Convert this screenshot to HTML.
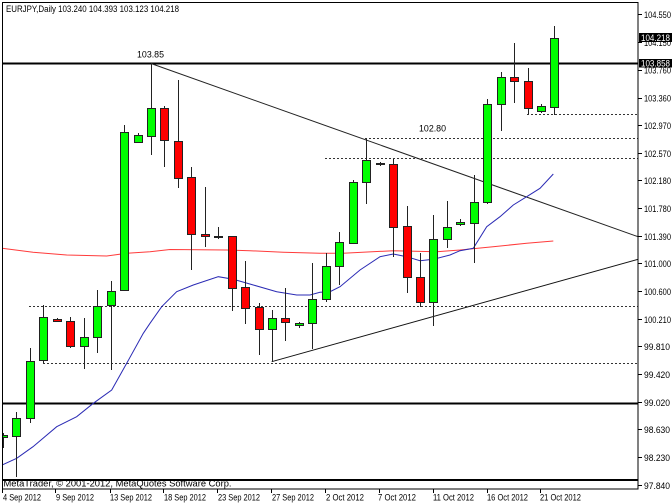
<!DOCTYPE html>
<html><head><meta charset="utf-8">
<style>
html,body{margin:0;padding:0;background:#fff;}
svg{display:block;}
text{font-family:"Liberation Sans",sans-serif;fill:#000;}
</style></head>
<body>
<svg width="672" height="504" viewBox="0 0 672 504" xmlns="http://www.w3.org/2000/svg">
<defs><clipPath id="pa"><rect x="2" y="2" width="636" height="487"/></clipPath></defs>
<rect x="0" y="0" width="672" height="504" fill="#fff"/>

<g clip-path="url(#pa)">
<!-- horizontal solid lines -->
<line x1="2" y1="63.5" x2="638" y2="63.5" stroke="#000" stroke-width="2"/>
<line x1="2" y1="403.5" x2="638" y2="403.5" stroke="#000" stroke-width="2"/>
<line x1="2" y1="480" x2="638" y2="480" stroke="#000" stroke-width="2"/>
<!-- dotted levels -->
<g stroke="#333" stroke-width="1" stroke-dasharray="2 2" fill="none">
<line x1="29" y1="306.5" x2="638" y2="306.5"/>
<line x1="43" y1="363.5" x2="638" y2="363.5"/>
<line x1="325" y1="158.5" x2="638" y2="158.5"/>
<line x1="365" y1="138.5" x2="638" y2="138.5"/>
<line x1="527" y1="114.5" x2="638" y2="114.5"/>
</g>
<!-- trend lines -->
<line x1="151" y1="63.5" x2="638" y2="236.7" stroke="#222" stroke-width="1"/>
<line x1="271.7" y1="361.7" x2="638" y2="259.3" stroke="#111" stroke-width="1"/>
<!-- moving averages -->
<polyline fill="none" stroke="#ff3b3b" stroke-width="1" points="2,248.3 33,252.3 66.7,255 106.7,256 126.7,253.3 150,251.7 170,249.5 226.7,250 250,250.7 283.3,252.3 320,253.3 343,253.3 393.3,250.7 436.7,251.7 460,250 493,246.7 526.7,243.3 553.3,241"/>
<polyline fill="none" stroke="#2a2ab4" stroke-width="1" points="2,465 16.7,458.3 33,446.7 56.7,426.7 76.7,416.7 93.3,403.3 111.7,390 126.7,363.3 143.3,333.3 150,323.3 161.7,306.7 176.7,291.7 193.3,285 218.3,276.7 233.3,279.3 253.3,285 276.7,291.7 296.7,295 310,295 320,292.3 330,291.7 340,286.7 360,270 380,256.7 393.3,254 406.7,256.7 420,260.7 433.3,259.3 450,255 460,250.7 473.3,248.3 486.7,226.7 500,216.7 513.3,205 526.7,196.7 540,188.3 553.3,174"/>

<!-- candles -->
<g stroke="#222" stroke-width="1">
<line x1="3.5" y1="433" x2="3.5" y2="448"/><rect x="-0.5" y="435.5" width="8" height="2" fill="#00ff00"/>
<line x1="16.5" y1="412" x2="16.5" y2="477"/><rect x="12.5" y="418.5" width="8" height="18" fill="#00ff00"/>
<line x1="30.5" y1="348" x2="30.5" y2="423"/><rect x="26.5" y="361.5" width="8" height="57" fill="#00ff00"/>
<line x1="43.5" y1="305" x2="43.5" y2="363"/><rect x="39.5" y="317.5" width="8" height="43" fill="#00ff00"/>
<line x1="57.5" y1="318" x2="57.5" y2="322"/><rect x="53.5" y="319.5" width="8" height="2" fill="#ff0000"/>
<line x1="70.5" y1="317" x2="70.5" y2="348"/><rect x="66.5" y="321.5" width="8" height="25" fill="#ff0000"/>
<line x1="84.5" y1="318" x2="84.5" y2="369"/><rect x="80.5" y="337.5" width="8" height="9" fill="#00ff00"/>
<line x1="97.5" y1="290" x2="97.5" y2="353"/><rect x="93.5" y="306.5" width="8" height="31" fill="#00ff00"/>
<line x1="111.5" y1="281" x2="111.5" y2="370"/><rect x="107.5" y="291.5" width="8" height="14" fill="#00ff00"/>
<line x1="124.5" y1="125" x2="124.5" y2="290"/><rect x="120.5" y="132.5" width="8" height="158" fill="#00ff00"/>
<line x1="138.5" y1="133" x2="138.5" y2="142"/><rect x="134.5" y="135.5" width="8" height="7" fill="#00ff00"/>
<line x1="151.5" y1="63" x2="151.5" y2="155"/><rect x="147.5" y="108.5" width="8" height="28" fill="#00ff00"/>
<line x1="164.5" y1="106" x2="164.5" y2="167"/><rect x="160.5" y="108.5" width="8" height="32" fill="#ff0000"/>
<line x1="178.5" y1="80" x2="178.5" y2="188"/><rect x="174.5" y="141.5" width="8" height="37" fill="#ff0000"/>
<line x1="191.5" y1="167" x2="191.5" y2="270"/><rect x="187.5" y="177.5" width="8" height="57" fill="#ff0000"/>
<line x1="205.5" y1="187" x2="205.5" y2="247"/><rect x="201.5" y="234.5" width="8" height="2" fill="#ff0000"/>
<line x1="218.5" y1="227" x2="218.5" y2="239"/><rect x="214.5" y="236.5" width="8" height="1" fill="#00ff00"/>
<line x1="232.5" y1="236" x2="232.5" y2="311"/><rect x="228.5" y="236.5" width="8" height="52" fill="#ff0000"/>
<line x1="245.5" y1="261" x2="245.5" y2="324"/><rect x="241.5" y="287.5" width="8" height="21" fill="#ff0000"/>
<line x1="259.5" y1="303" x2="259.5" y2="355"/><rect x="255.5" y="307.5" width="8" height="22" fill="#ff0000"/>
<line x1="272.5" y1="310" x2="272.5" y2="362"/><rect x="268.5" y="318.5" width="8" height="11" fill="#00ff00"/>
<line x1="285.5" y1="288" x2="285.5" y2="341"/><rect x="281.5" y="318.5" width="8" height="4" fill="#ff0000"/>
<line x1="299.5" y1="322" x2="299.5" y2="328"/><rect x="295.5" y="323.5" width="8" height="2" fill="#00ff00"/>
<line x1="312.5" y1="263" x2="312.5" y2="349"/><rect x="308.5" y="299.5" width="8" height="24" fill="#00ff00"/>
<line x1="326.5" y1="253" x2="326.5" y2="302"/><rect x="322.5" y="266.5" width="8" height="33" fill="#00ff00"/>
<line x1="339.5" y1="232" x2="339.5" y2="285"/><rect x="335.5" y="242.5" width="8" height="24" fill="#00ff00"/>
<line x1="353.5" y1="180" x2="353.5" y2="244"/><rect x="349.5" y="182.5" width="8" height="61" fill="#00ff00"/>
<line x1="366.5" y1="139" x2="366.5" y2="204"/><rect x="362.5" y="160.5" width="8" height="22" fill="#00ff00"/>
<line x1="380.5" y1="162" x2="380.5" y2="166"/><rect x="376.5" y="163.5" width="8" height="1" fill="#00ff00"/>
<line x1="393.5" y1="159" x2="393.5" y2="257"/><rect x="389.5" y="164.5" width="8" height="63" fill="#ff0000"/>
<line x1="407.5" y1="206" x2="407.5" y2="293"/><rect x="403.5" y="226.5" width="8" height="51" fill="#ff0000"/>
<line x1="420.5" y1="253" x2="420.5" y2="307"/><rect x="416.5" y="277.5" width="8" height="25" fill="#ff0000"/>
<line x1="433.5" y1="215" x2="433.5" y2="326"/><rect x="429.5" y="239.5" width="8" height="63" fill="#00ff00"/>
<line x1="447.5" y1="201" x2="447.5" y2="248"/><rect x="443.5" y="227.5" width="8" height="12" fill="#00ff00"/>
<line x1="460.5" y1="219" x2="460.5" y2="226"/><rect x="456.5" y="222.5" width="8" height="2" fill="#00ff00"/>
<line x1="474.5" y1="175" x2="474.5" y2="263"/><rect x="470.5" y="202.5" width="8" height="21" fill="#00ff00"/>
<line x1="487.5" y1="99" x2="487.5" y2="204"/><rect x="483.5" y="104.5" width="8" height="98" fill="#00ff00"/>
<line x1="501.5" y1="72" x2="501.5" y2="131"/><rect x="497.5" y="77.5" width="8" height="27" fill="#00ff00"/>
<line x1="514.5" y1="43" x2="514.5" y2="103"/><rect x="510.5" y="77.5" width="8" height="4" fill="#ff0000"/>
<line x1="528.5" y1="68" x2="528.5" y2="114"/><rect x="524.5" y="81.5" width="8" height="27" fill="#ff0000"/>
<line x1="541.5" y1="104" x2="541.5" y2="113"/><rect x="537.5" y="106.5" width="8" height="5" fill="#00ff00"/>
<line x1="554.5" y1="26" x2="554.5" y2="115"/><rect x="550.5" y="38.5" width="8" height="69" fill="#00ff00"/>
</g>

<!-- labels in chart -->
<text x="137" y="57.5" font-size="9" textLength="27" lengthAdjust="spacingAndGlyphs">103.85</text>
<text x="419" y="131.5" font-size="9" textLength="27" lengthAdjust="spacingAndGlyphs">102.80</text>
<text x="6" y="12" font-size="9" textLength="173" lengthAdjust="spacingAndGlyphs">EURJPY,Daily  103.240 104.393 103.123 104.218</text>
<text x="3.5" y="486.5" font-size="9" textLength="228" lengthAdjust="spacingAndGlyphs">MetaTrader, © 2001-2012, MetaQuotes Software Corp.</text>
</g>

<!-- frame -->
<rect x="2.5" y="2.5" width="635.5" height="486.5" fill="none" stroke="#000" stroke-width="1"/>

<!-- right axis ticks and labels -->
<g stroke="#000" stroke-width="1">
<line x1="638" y1="14.5" x2="642" y2="14.5"/>
<line x1="638" y1="42.5" x2="642" y2="42.5"/>
<line x1="638" y1="70.5" x2="642" y2="70.5"/>
<line x1="638" y1="98.5" x2="642" y2="98.5"/>
<line x1="638" y1="125.5" x2="642" y2="125.5"/>
<line x1="638" y1="153.5" x2="642" y2="153.5"/>
<line x1="638" y1="180.5" x2="642" y2="180.5"/>
<line x1="638" y1="208.5" x2="642" y2="208.5"/>
<line x1="638" y1="236.5" x2="642" y2="236.5"/>
<line x1="638" y1="263.5" x2="642" y2="263.5"/>
<line x1="638" y1="291.5" x2="642" y2="291.5"/>
<line x1="638" y1="319.5" x2="642" y2="319.5"/>
<line x1="638" y1="346.5" x2="642" y2="346.5"/>
<line x1="638" y1="374.5" x2="642" y2="374.5"/>
<line x1="638" y1="402.5" x2="642" y2="402.5"/>
<line x1="638" y1="429.5" x2="642" y2="429.5"/>
<line x1="638" y1="457.5" x2="642" y2="457.5"/>
<line x1="638" y1="485.5" x2="642" y2="485.5"/>
</g>
<g font-size="9">
<text x="644" y="18" textLength="27" lengthAdjust="spacingAndGlyphs">104.550</text>
<text x="644" y="46" textLength="27" lengthAdjust="spacingAndGlyphs">104.150</text>
<text x="644" y="73.5" textLength="27" lengthAdjust="spacingAndGlyphs">103.760</text>
<text x="644" y="101.5" textLength="27" lengthAdjust="spacingAndGlyphs">103.360</text>
<text x="644" y="129" textLength="27" lengthAdjust="spacingAndGlyphs">102.970</text>
<text x="644" y="157" textLength="27" lengthAdjust="spacingAndGlyphs">102.570</text>
<text x="644" y="184" textLength="27" lengthAdjust="spacingAndGlyphs">102.180</text>
<text x="644" y="212" textLength="27" lengthAdjust="spacingAndGlyphs">101.780</text>
<text x="644" y="240" textLength="27" lengthAdjust="spacingAndGlyphs">101.390</text>
<text x="644" y="267" textLength="27" lengthAdjust="spacingAndGlyphs">101.000</text>
<text x="644" y="295" textLength="27" lengthAdjust="spacingAndGlyphs">100.600</text>
<text x="644" y="323" textLength="27" lengthAdjust="spacingAndGlyphs">100.210</text>
<text x="644" y="350" textLength="26" lengthAdjust="spacingAndGlyphs">99.810</text>
<text x="644" y="378" textLength="26" lengthAdjust="spacingAndGlyphs">99.420</text>
<text x="644" y="406" textLength="26" lengthAdjust="spacingAndGlyphs">99.020</text>
<text x="644" y="433" textLength="26" lengthAdjust="spacingAndGlyphs">98.630</text>
<text x="644" y="461" textLength="26" lengthAdjust="spacingAndGlyphs">98.230</text>
<text x="644" y="489" textLength="26" lengthAdjust="spacingAndGlyphs">97.840</text>
</g>
<!-- price boxes -->
<rect x="639" y="33" width="33" height="9" fill="#000"/>
<text x="641" y="41" font-size="9" textLength="29" lengthAdjust="spacingAndGlyphs" style="fill:#fff">104.218</text>
<rect x="639" y="59" width="33" height="8.5" fill="#000"/>
<text x="641" y="66.5" font-size="9" textLength="29" lengthAdjust="spacingAndGlyphs" style="fill:#fff">103.858</text>

<!-- bottom axis ticks and labels -->
<g stroke="#000" stroke-width="1">
<line x1="2.5" y1="489" x2="2.5" y2="493"/>
<line x1="55.5" y1="489" x2="55.5" y2="493"/>
<line x1="110.5" y1="489" x2="110.5" y2="493"/>
<line x1="163.5" y1="489" x2="163.5" y2="493"/>
<line x1="217.5" y1="489" x2="217.5" y2="493"/>
<line x1="271.5" y1="489" x2="271.5" y2="493"/>
<line x1="325.5" y1="489" x2="325.5" y2="493"/>
<line x1="379.5" y1="489" x2="379.5" y2="493"/>
<line x1="433.5" y1="489" x2="433.5" y2="493"/>
<line x1="487.5" y1="489" x2="487.5" y2="493"/>
<line x1="540.5" y1="489" x2="540.5" y2="493"/>
</g>
<g font-size="9">
<text x="3" y="500.5" textLength="38" lengthAdjust="spacingAndGlyphs">4 Sep 2012</text>
<text x="56" y="500.5" textLength="38" lengthAdjust="spacingAndGlyphs">9 Sep 2012</text>
<text x="110" y="500.5" textLength="42" lengthAdjust="spacingAndGlyphs">13 Sep 2012</text>
<text x="164" y="500.5" textLength="42" lengthAdjust="spacingAndGlyphs">18 Sep 2012</text>
<text x="218" y="500.5" textLength="42" lengthAdjust="spacingAndGlyphs">23 Sep 2012</text>
<text x="272" y="500.5" textLength="42" lengthAdjust="spacingAndGlyphs">27 Sep 2012</text>
<text x="326" y="500.5" textLength="38" lengthAdjust="spacingAndGlyphs">2 Oct 2012</text>
<text x="378" y="500.5" textLength="38" lengthAdjust="spacingAndGlyphs">7 Oct 2012</text>
<text x="433" y="500.5" textLength="41" lengthAdjust="spacingAndGlyphs">11 Oct 2012</text>
<text x="487" y="500.5" textLength="41" lengthAdjust="spacingAndGlyphs">16 Oct 2012</text>
<text x="540" y="500.5" textLength="41" lengthAdjust="spacingAndGlyphs">21 Oct 2012</text>
</g>
</svg>
</body></html>
